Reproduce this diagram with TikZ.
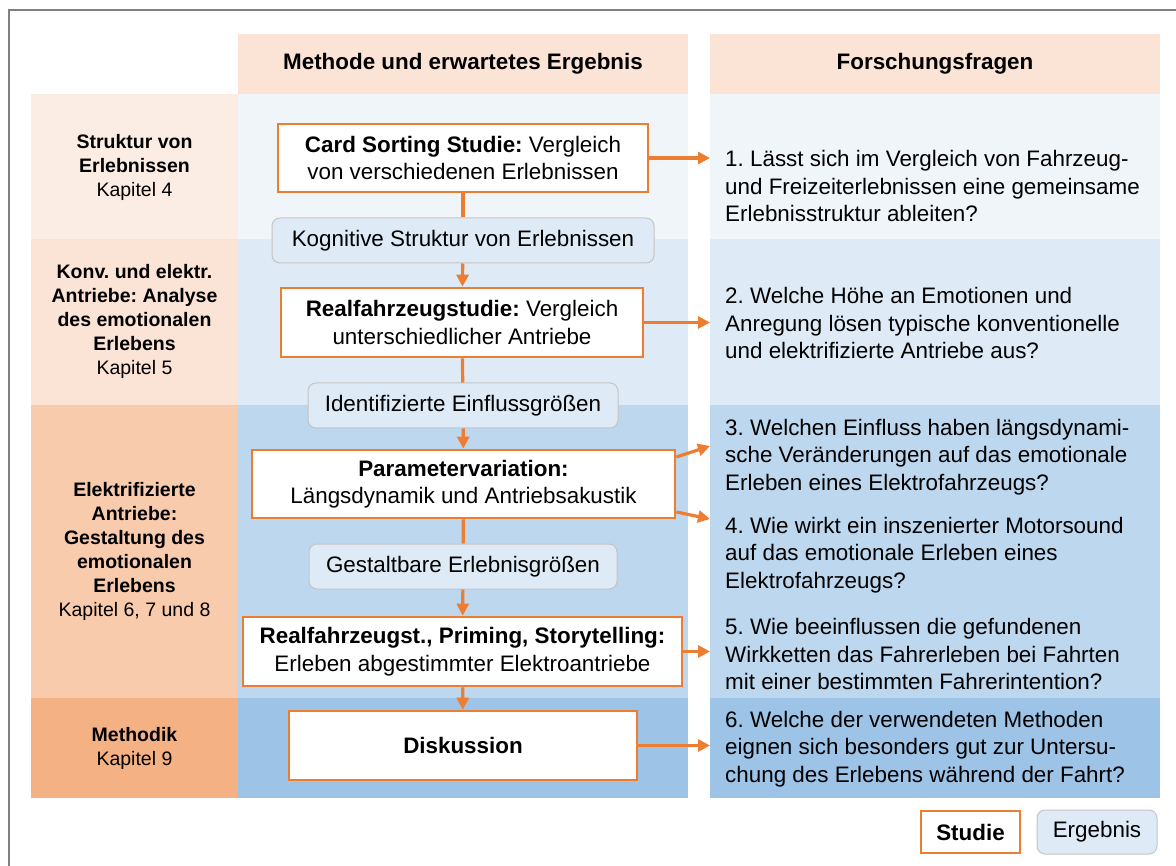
\documentclass[tikz,border=0pt]{standalone}
\usepackage{fontspec}
\setmainfont{Liberation Sans}
\usetikzlibrary{arrows.meta}

\definecolor{orng}{HTML}{ED7D31}
\definecolor{headfill}{HTML}{FBE3D6}
\definecolor{lrowA}{HTML}{FCEDE4}
\definecolor{lrowB}{HTML}{FBE3D6}
\definecolor{lrowC}{HTML}{F8CBAD}
\definecolor{lrowD}{HTML}{F4B183}
\definecolor{browA}{HTML}{F0F5FA}
\definecolor{browB}{HTML}{DEEBF7}
\definecolor{browC}{HTML}{BDD7EE}
\definecolor{browD}{HTML}{9DC3E6}
\definecolor{resfill}{HTML}{DEEBF7}
\definecolor{resline}{HTML}{C4C4C4}
\definecolor{framegray}{HTML}{808080}

\begin{document}
\frenchspacing
\begin{tikzpicture}[x=1pt,y=-1pt,
  body/.style={font=\fontsize{22.4}{27.5}\selectfont},
  side/.style={font=\fontsize{19.5}{24}\selectfont, align=center, inner sep=0pt},
  head/.style={font=\fontsize{22.4}{27.5}\selectfont\bfseries, inner sep=0pt},
  study/.style={body, draw=orng, line width=2.7pt, fill=white, align=center, inner sep=0pt},
  result/.style={body, draw=resline, line width=1pt, fill=resfill, rounded corners=8pt, align=center, inner sep=0pt},
  question/.style={body, align=left, anchor=west, inner sep=0pt},
  link/.style={draw=orng, line width=3.2pt},
  flow/.style={link, -{Triangle[length=12pt,width=12pt]}}
]
\useasboundingbox (0,0) rectangle (1176,866);

% outer frame (top and left edge)
\draw[framegray, line width=2pt] (9,866) -- (9,10) -- (1176,10);

% column headers
\fill[headfill] (238,34) rectangle (688,94);
\fill[headfill] (710,34) rectangle (1160,94);
\node[head] (hmeth) at (463,64) {Methode und erwartetes Ergebnis};
\node[head] (hfrag) at (935,64) {Forschungsfragen};

% row bands: chapter column, method column, question column
\fill[lrowA] (31,94) rectangle (238,239);
\fill[lrowB] (31,239) rectangle (238,405);
\fill[lrowC] (31,405) rectangle (238,698);
\fill[lrowD] (31,698) rectangle (238,798);
\fill[browA] (238,94) rectangle (688,239);
\fill[browB] (238,239) rectangle (688,405);
\fill[browC] (238,405) rectangle (688,698);
\fill[browD] (238,698) rectangle (688,798);
\fill[browA] (710,94) rectangle (1160,239);
\fill[browB] (710,239) rectangle (1160,405);
\fill[browC] (710,405) rectangle (1160,698);
\fill[browD] (710,698) rectangle (1160,798);

% chapter labels
\node[side] (k4) at (134.5,167) {\textbf{Struktur von}\\\textbf{Erlebnissen}\\Kapitel 4};
\node[side] (k5) at (134.5,321) {\textbf{Konv. und elektr.}\\\textbf{Antriebe: Analyse}\\\textbf{des emotionalen}\\\textbf{Erlebens}\\Kapitel 5};
\node[side] (k678) at (134.5,551) {\textbf{Elektrifizierte}\\\textbf{Antriebe:}\\\textbf{Gestaltung des}\\\textbf{emotionalen}\\\textbf{Erlebens}\\Kapitel 6, 7 und 8};
\node[side] (k9) at (134.5,748) {\textbf{Methodik}\\Kapitel 9};

% studies and results
\node[study, minimum width=370pt, minimum height=68pt] (card) at (463,158)
  {\textbf{Card Sorting Studie:} Vergleich\\von verschiedenen Erlebnissen};
\node[result, minimum width=382pt, minimum height=45pt] (kog) at (463,240.5)
  {Kognitive Struktur von Erlebnissen};
\node[study, minimum width=362pt, minimum height=69pt] (real) at (462,322.5)
  {\textbf{Realfahrzeugstudie:} Vergleich\\unterschiedlicher Antriebe};
\node[result, minimum width=310pt, minimum height=45pt] (ident) at (463,405.5)
  {Identifizierte Einflussgrößen};
\node[study, minimum width=423pt, minimum height=68pt] (param) at (463.5,484)
  {\textbf{Parametervariation:}\\Längsdynamik und Antriebsakustik};
\node[result, minimum width=308pt, minimum height=45pt] (gest) at (463,566.5)
  {Gestaltbare Erlebnisgrößen};
\node[study, minimum width=439pt, minimum height=69pt] (prim) at (462.5,651.5)
  {\textbf{Realfahrzeugst., Priming, Storytelling:}\\Erleben abgestimmter Elektroantriebe};
\node[study, minimum width=348pt, minimum height=69pt] (disk) at (463,745.5)
  {\textbf{Diskussion}};

% research questions
\node[question] (q1) at (725,186) {1. Lässt sich im Vergleich von Fahrzeug-\\und Freizeiterlebnissen eine gemeinsame\\Erlebnisstruktur ableiten?};
\node[question] (q2) at (725,323) {2. Welche Höhe an Emotionen und\\Anregung lösen typische konventionelle\\und elektrifizierte Antriebe aus?};
\node[question] (q3) at (725,457) {3. Welchen Einfluss haben längsdynami-\\sche Veränderungen auf das emotionale\\Erleben eines Elektrofahrzeugs?};
\node[question] (q4) at (725,555) {4. Wie wirkt ein inszenierter Motorsound\\auf das emotionale Erleben eines\\Elektrofahrzeugs?};
\node[question] (q5) at (725,654) {5. Wie beeinflussen die gefundenen\\Wirkketten das Fahrerleben bei Fahrten\\mit einer bestimmten Fahrerintention?};
\node[question] (q6) at (725,749) {6. Welche der verwendeten Methoden\\eignen sich besonders gut zur Untersu-\\chung des Erlebens während der Fahrt?};

% arrow ends at the left edge of the question column
\coordinate (rc) at (710,0);
\coordinate (t3) at (710,446);
\coordinate (t4) at (710,519);

% vertical flow
\draw[link] (card) -- (kog);
\draw[flow] (kog) -- (real);
\draw[link] (real) -- (ident);
\draw[flow] (ident) -- (param);
\draw[link] (param) -- (gest);
\draw[flow] (gest) -- (prim);
\draw[flow] (prim) -- (disk);

% links to research questions
\draw[flow] (card.east) -- (card.east -| rc);
\draw[flow] (real.east) -- (real.east -| rc);
\draw[flow] ([yshift=27pt]param.east) -- (t3);
\draw[flow] ([yshift=-28pt]param.east) -- (t4);
\draw[flow] (prim.east) -- (prim.east -| rc);
\draw[flow] (disk.east) -- (disk.east -| rc);

% legend
\node[study, minimum width=99pt, minimum height=42pt] (lstud) at (970.5,832) {\textbf{Studie}};
\node[result, minimum width=120pt, minimum height=44pt] (lerg) at (1097,832) {Ergebnis};
\end{tikzpicture}
\end{document}
